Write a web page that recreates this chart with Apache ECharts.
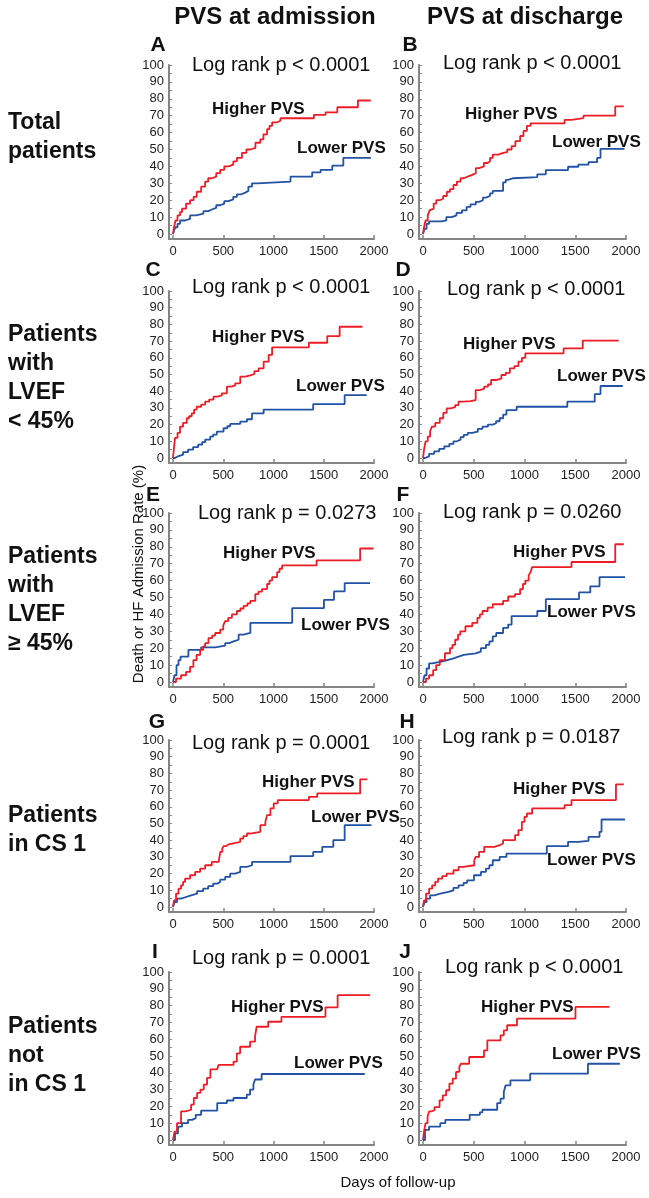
<!DOCTYPE html>
<html>
<head>
<meta charset="utf-8">
<script src="https://cdn.jsdelivr.net/npm/echarts@6/dist/echarts.min.js"></script>
<style>
  html, body { margin: 0; padding: 0; background: #fff; }
  #main { width: 649px; height: 1198px; }
</style>
</head>
<body>
<div id="main"></div>
<script>
// ticks / labels
var xTicks = [0, 500, 1000, 1500, 2000];
var yTicks = [0, 10, 20, 30, 40, 50, 60, 70, 80, 90, 100];
var yMinorTicks = [0, 5, 10, 15, 20, 25, 30, 35, 40, 45, 50, 55, 60, 65, 70, 75, 80, 85, 90, 95, 100];
var columnTitles = ['PVS at admission', 'PVS at discharge'];
var rowTitles = ['Total\npatients', 'Patients\nwith\nLVEF\n< 45%', 'Patients\nwith\nLVEF\n≥ 45%', 'Patients\nin CS 1', 'Patients\nnot\nin CS 1'];
var panelLetters = ['A', 'B', 'C', 'D', 'E', 'F', 'G', 'H', 'I', 'J'];
var logRank = ['Log rank p < 0.0001', 'Log rank p < 0.0001', 'Log rank p < 0.0001', 'Log rank p < 0.0001',
  'Log rank p = 0.0273', 'Log rank p = 0.0260', 'Log rank p = 0.0001', 'Log rank p = 0.0187',
  'Log rank p = 0.0001', 'Log rank p < 0.0001'];

// [day, %] Kaplan-Meier steps
var higherA = [[0,0],[10,4],[25,8],[45,11],[70,13],[90,15],[130,18],[170,20],[205,22],[236,25],[280,28],[320,31],[350,33],[386,34],[430,36],[470,38],[510,40],[553,41],[600,43],[636,45],[686,48],[730,50],[769,51],[820,54],[869,56],[900,59],[936,62],[960,64],[986,66],[1030,67],[1069,68.5],[1402,70.5],[1518,72],[1635,75],[1840,79],[1968,79]];
var lowerA = [[0,0],[10,2],[25,4],[45,6],[70,8],[120,9],[170,11],[230,12],[303,13.5],[350,14.5],[386,15.5],[430,17],[470,18],[510,19.5],[553,20.5],[600,22],[636,23.5],[680,24.5],[719,25.5],[750,28],[786,30],[836,31],[1169,34],[1385,36.5],[1469,38],[1585,40.5],[1695,45],[1968,45]];
var higherB = [[0,0],[10,4],[25,8],[47,11],[65,14],[81,15],[105,18],[131,20],[165,21],[199,22.5],[235,25],[266,26.5],[300,29],[334,31],[370,33],[401,34],[440,35],[485,36],[520,39],[553,40],[600,42],[637,43],[660,45],[687,47],[740,48],[789,48.5],[830,50],[873,52],[910,55],[957,58],[990,61],[1024,64],[1060,65.5],[1395,67.5],[1463,68.6],[1581,70],[1894,75.5],[1978,75.5]];
var lowerB = [[0,0],[15,3],[35,6],[60,7.5],[182,8],[230,10],[283,11],[330,12.5],[384,14],[430,16],[468,17.5],[520,19],[553,20],[590,21.5],[620,22.5],[660,24],[687,25.5],[789,30.5],[815,32],[839,33],[890,33.7],[1126,35.3],[1210,37.8],[1429,39.8],[1530,41],[1631,42.5],[1715,45],[1749,50.4],[1985,50.4]];
var higherC = [[0,0],[8,5],[20,12],[45,15],[70,18.8],[100,21],[137,23.8],[160,25],[186,26.7],[210,29],[236,30.7],[280,32],[320,33.7],[360,35],[403,36.7],[440,37.5],[486,38.7],[536,42.7],[580,43.5],[619,44.7],[669,48.7],[720,49.5],[769,50.3],[810,52],[852,53.7],[902,57.7],[952,61.7],[986,66.3],[1352,69],[1535,73],[1658,78.6],[1885,78.6]];
var lowerC = [[0,0],[20,1],[50,2],[100,3.5],[150,5],[200,6.5],[250,8],[290,9.5],[320,11],[370,12.8],[400,14],[436,15.8],[503,17.8],[540,19],[569,20.4],[669,21.8],[736,23.2],[786,26.7],[902,29],[1395,32.3],[1708,37.7],[1928,37.7]];
var higherD = [[0,0],[10,5],[25,10],[47,12.8],[70,16],[88,18.8],[120,21],[165,23.8],[200,27],[233,29.7],[270,30.5],[317,31.7],[350,33.7],[400,34],[468,34.7],[519,40.7],[560,41.5],[603,42.7],[640,44],[671,46.7],[720,47.5],[772,49.7],[815,51],[856,53.7],[900,55],[940,57.7],[975,60],[1008,62.7],[1385,65.7],[1574,70.3],[1928,70.3]];
var lowerD = [[0,0],[20,1],[60,2.5],[110,4],[160,5.5],[210,7],[260,8.5],[300,10],[334,11],[370,12.5],[401,13.8],[440,15],[485,15.8],[540,17.5],[586,18.8],[640,20],[687,20.8],[720,22],[755,23.8],[790,26],[822,28.7],[923,30.7],[1422,33.7],[1692,38.3],[1749,43.1],[1968,43.1]];
var higherE = [[0,0],[30,2],[80,4],[130,6],[170,9],[203,13],[235,16],[270,19],[300,21],[320,23],[353,26],[390,27.5],[420,29],[470,31],[500,33.5],[519,36],[550,38],[586,40],[636,42],[670,43.5],[703,45],[740,46.5],[769,48],[819,52],[850,53.5],[886,55],[936,58],[960,60],[986,62],[1036,65],[1060,67],[1086,69],[1429,72],[1862,79],[1995,79]];
var lowerE = [[0,0],[15,4],[35,10],[55,13],[75,15],[153,19],[280,20.5],[420,21.5],[519,23],[560,24],[603,25],[653,28],[700,29],[770,35],[1186,43.7],[1502,48.6],[1602,53.6],[1708,58.5],[1961,58.5]];
var higherF = [[0,0],[30,2],[60,4],[100,7],[130,10],[165,13],[216,17],[266,20],[290,22],[317,25],[345,28],[367,30],[418,33],[485,35],[536,38],[560,40],[586,42],[637,44],[687,46],[789,48],[839,50.6],[907,52],[957,55],[985,58],[1008,60],[1041,63],[1060,65],[1075,68],[1463,71],[1894,81.5],[1978,81.5]];
var lowerF = [[0,0],[15,4],[35,8],[60,11],[90,12],[182,13],[240,14],[300,15],[350,16],[401,17],[519,18],[570,20],[620,22],[654,24],[687,27],[721,29],[789,32],[839,34],[873,39],[1126,42],[1210,49],[1537,53],[1648,56.6],[1739,62],[1990,62]];
var higherG = [[0,0],[10,4],[30,8],[55,11],[80,13],[100,15],[120,17],[170,19],[220,21],[270,23],[320,25],[386,27],[455,28],[470,33],[490,35],[503,36.5],[530,37.5],[553,38.5],[636,39],[669,41],[700,42.5],[736,44],[769,45],[869,49],[919,51],[936,55],[969,59],[1002,62],[1042,64],[1352,66],[1435,68],[1862,76.4],[1935,76.4]];
var lowerG = [[0,0],[15,3],[40,5],[80,6],[130,7],[180,8],[240,9.5],[300,11],[350,12.5],[400,14],[440,15],[470,16.4],[519,18],[569,20],[619,21],[669,24],[736,25],[786,27],[1169,30.5],[1395,33],[1485,36],[1595,40],[1708,49],[1975,49]];
var higherH = [[0,0],[10,4],[30,8],[60,11],[90,13],[120,15],[148,17],[190,18.5],[233,20],[300,22],[350,24],[400,25],[505,28],[519,30],[553,33],[603,36],[704,37],[755,38],[789,40],[907,43],[940,46],[974,51],[1000,54],[1024,56],[1075,59],[1395,61],[1463,64],[1901,73.4],[1978,73.4]];
var lowerH = [[0,0],[15,3],[35,5],[70,7],[110,8],[170,9],[250,10],[300,11.5],[350,13],[400,14.5],[435,16],[502,19],[570,21],[620,23],[654,25],[687,28],[755,30],[822,32],[1220,36.4],[1429,39],[1530,39.6],[1631,42],[1739,45],[1759,52.4],[1990,52.4]];
var higherI = [[0,0],[15,5],[40,10],[80,17],[125,18],[180,21],[207,25],[240,28],[273,30],[306,33],[339,37],[372,42],[438,42.5],[454,44.7],[602,46.6],[635,51.6],[668,55.5],[767,58.5],[816,61.5],[832,67.4],[947,70.4],[1079,73.3],[1517,78.9],[1638,86.2],[1961,86.2]];
var lowerI = [[0,0],[20,4],[50,8],[90,10],[150,12],[190,13],[226,15],[280,17.5],[440,22],[536,23.5],[602,25],[734,27],[767,30],[800,33],[816,36],[882,39.3],[1908,39.3]];
var higherJ = [[0,0],[10,5],[25,10],[45,14],[60,17],[81,17.7],[114,19.6],[163,23.6],[195,26.6],[228,29.6],[260,33.5],[293,36.5],[325,40.5],[358,43.5],[374,45.4],[455,49.4],[601,53.4],[634,59.3],[764,62.3],[796,65.3],[829,68.3],[926,72.2],[1502,79.2],[1836,79.2]];
var lowerJ = [[0,0],[20,6],[60,8],[170,10],[220,12],[460,15],[560,16.5],[585,18],[731,22],[764,24.6],[796,28.6],[813,32.5],[861,35.5],[1056,39.5],[1625,45.4],[1940,45.4]];

var higherCurves = [higherA, higherB, higherC, higherD, higherE, higherF, higherG, higherH, higherI, higherJ];
var lowerCurves = [lowerA, lowerB, lowerC, lowerD, lowerE, lowerF, lowerG, lowerH, lowerI, lowerJ];

// layout (pixels): where day 0 / day 2000 and 100% / 0% sit
var colZero = [173, 423], colSpan = [201, 203];
var rowTop = [65, 291, 513, 740, 972], rowZero = [234, 458, 682, 907, 1140];
var X_MIN = -40, Y_MIN = -3;

var letterPos = [[158,45],[410,45],[153,270],[403,270],[153,495],[403,495],[157,722],[407,722],[155,952],[405,952]];
var logPos = [[192,65],[443,63],[192,287],[447,289],[198,513],[443,512],[192,743],[442,737],[192,958],[445,967]];
var higherPos = [[212,109],[465,114],[212,337],[463,344],[223,553],[513,552],[262,782],[513,789],[231,1007],[481,1007]];
var lowerPos = [[297,148],[552,142],[296,386],[557,376],[301,625],[547,612],[311,817],[547,860],[294,1063],[552,1054]];
var rowTitleY = [137, 378, 600, 830, 1056];

var RED = '#ee1c25', BLUE = '#2152a6', AXIS = '#858585';
var FONT = "'Liberation Sans', Arial, sans-serif";

var chart = echarts.init(document.getElementById('main'), null, { renderer: 'canvas' });

var grids = [], xAxes = [], yAxes = [], series = [], graphics = [];

function plain(v) { return String(v); }

function txt(x, y, text, size, weight, align, extra) {
  var el = {
    type: 'text', x: x, y: y, silent: true,
    style: {
      text: text, fill: '#111', font: weight + ' ' + size + 'px ' + FONT,
      textAlign: align, textVerticalAlign: 'middle', align: align, verticalAlign: 'middle'
    }
  };
  if (extra) {
    for (var k in extra) el.style[k] = extra[k];
  }
  return el;
}

for (var i = 0; i < 10; i++) {
  var r = Math.floor(i / 2), c = i % 2;
  var pxDay = colSpan[c] / 2000;
  var pxUnit = (rowZero[r] - rowTop[r]) / 100;
  grids.push({
    left: colZero[c] + X_MIN * pxDay,
    top: rowTop[r],
    width: (2000 - X_MIN) * pxDay,
    height: (100 - Y_MIN) * pxUnit,
    outerBoundsMode: 'none'
  });
  xAxes.push({
    type: 'value', gridIndex: i, min: X_MIN, max: 2000,
    axisLine: { show: true, onZero: false, lineStyle: { color: AXIS, width: 2 } },
    axisTick: { show: true, inside: true, length: 4, customValues: xTicks, lineStyle: { color: AXIS, width: 1.5 } },
    axisLabel: { customValues: xTicks, formatter: plain, fontSize: 13, color: '#222', margin: 6, fontFamily: FONT },
    splitLine: { show: false }
  });
  yAxes.push({
    type: 'value', gridIndex: i, min: Y_MIN, max: 100,
    axisLine: { show: true, onZero: false, lineStyle: { color: AXIS, width: 2 } },
    axisTick: { show: true, inside: true, length: 3, customValues: yMinorTicks, lineStyle: { color: AXIS, width: 1 } },
    axisLabel: { customValues: yTicks, formatter: plain, fontSize: 13, color: '#222', margin: 5, fontFamily: FONT },
    splitLine: { show: false }
  });
  series.push({
    type: 'line', xAxisIndex: i, yAxisIndex: i, data: lowerCurves[i], step: 'end',
    showSymbol: false, symbol: 'none', silent: true,
    lineStyle: { color: BLUE, width: 1.8 }
  });
  series.push({
    type: 'line', xAxisIndex: i, yAxisIndex: i, data: higherCurves[i], step: 'end',
    showSymbol: false, symbol: 'none', silent: true,
    lineStyle: { color: RED, width: 1.8 }
  });

  graphics.push(txt(letterPos[i][0], letterPos[i][1], panelLetters[i], 21, 'bold', 'center'));
  graphics.push(txt(logPos[i][0], logPos[i][1], logRank[i], 20, 'normal', 'left'));
  graphics.push(txt(higherPos[i][0], higherPos[i][1], 'Higher PVS', 17, 'bold', 'left'));
  graphics.push(txt(lowerPos[i][0], lowerPos[i][1], 'Lower PVS', 17, 'bold', 'left'));
}

graphics.push(txt(275, 17, columnTitles[0], 24, 'bold', 'center'));
graphics.push(txt(525, 17, columnTitles[1], 24, 'bold', 'center'));
for (var j = 0; j < rowTitles.length; j++) {
  graphics.push(txt(8, rowTitleY[j], rowTitles[j], 23, 'bold', 'left', { lineHeight: 29 }));
}
var yTitle = txt(139, 574, 'Death or HF Admission Rate (%)', 15, 'normal', 'center');
yTitle.rotation = Math.PI / 2;
graphics.push(yTitle);
graphics.push(txt(398, 1183, 'Days of follow-up', 15, 'normal', 'center'));

chart.setOption({
  animation: false,
  backgroundColor: '#fff',
  grid: grids,
  xAxis: xAxes,
  yAxis: yAxes,
  series: series,
  graphic: { elements: graphics }
});
</script>
</body>
</html>
